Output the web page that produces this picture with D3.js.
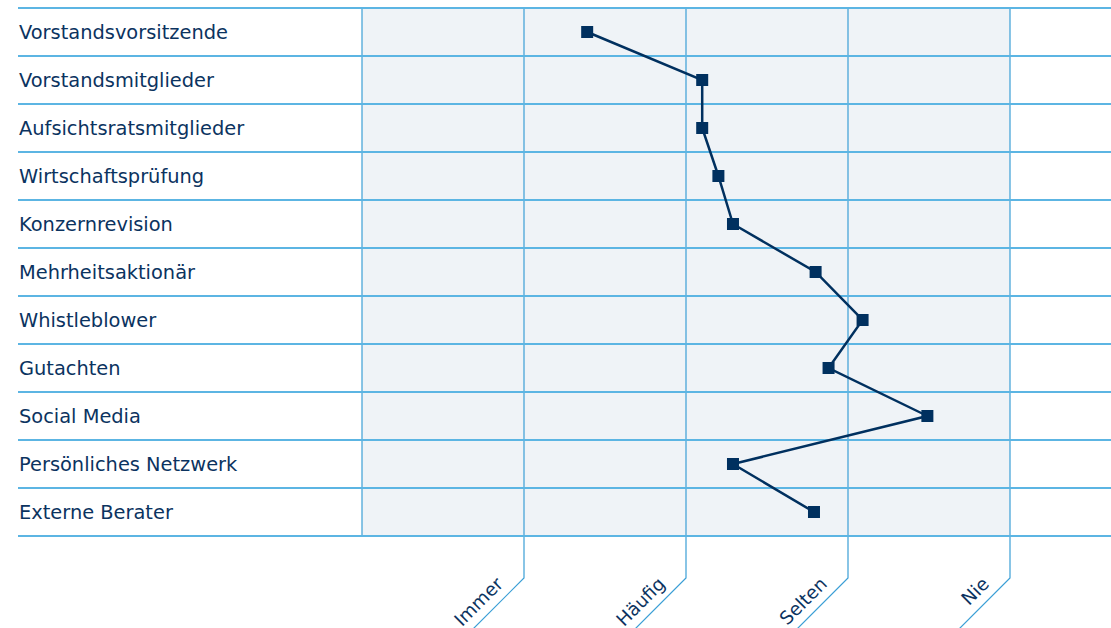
<!DOCTYPE html>
<html><head><meta charset="utf-8">
<script src="https://cdn.jsdelivr.net/npm/d3@7"></script>
<style>
html,body{margin:0;padding:0;background:#fff;}
svg{display:block;}
text{font-family:"DejaVu Sans",sans-serif;}
</style></head>
<body>
<svg id="chart" width="1111" height="628"></svg>
<script>
const categories = ["Vorstandsvorsitzende","Vorstandsmitglieder","Aufsichtsratsmitglieder","Wirtschaftsprüfung","Konzernrevision","Mehrheitsaktionär","Whistleblower","Gutachten","Social Media","Persönliches Netzwerk","Externe Berater"];
const values = [1.39, 2.10, 2.10, 2.20, 2.29, 2.80, 3.09, 2.88, 3.49, 2.29, 2.79];
const tickValues = [1, 2, 3, 4];
const tickLabels = ["Immer","Häufig","Selten","Nie"];

(function(){
const W = 1111, H = 628;
const plotTop = 8, plotBottom = 536, plotL = 362, plotR = 1010, labelL = 18;
const svg = d3.select("#chart");

const x = d3.scaleLinear().domain([0, 4]).range([plotL, plotR]);
const y = d3.scaleBand().domain(categories).range([plotTop, plotBottom]).padding(0);

const hColor = "#5cb5e3", vColor = "#3b9fd6", textColor = "#0b3360", markColor = "#00305f";
const fs = 19.4;

svg.append("rect").attr("x", plotL).attr("y", plotTop).attr("width", plotR - plotL).attr("height", plotBottom - plotTop).attr("fill", "#eff3f7");

svg.append("line").attr("x1", plotL).attr("x2", plotL).attr("y1", plotTop).attr("y2", plotBottom)
  .attr("stroke", vColor).attr("stroke-width", 1.2);
const tickG = svg.selectAll("g.tick").data(tickValues).enter().append("g").attr("class","tick");
const ext = 578;
tickG.append("path")
  .attr("d", d => `M${x(d)},${plotTop}V${ext}l-70,70`)
  .attr("fill", "none").attr("stroke", vColor).attr("stroke-width", 1.2);
tickG.append("text")
  .attr("transform", d => `translate(${x(d)},${ext}) rotate(-45)`)
  .attr("x", -19).attr("y", -9)
  .attr("text-anchor", "end")
  .attr("font-size", 18.3).attr("fill", textColor)
  .text((d, i) => tickLabels[i]);

const bounds = categories.map(c => y(c)).concat([y(categories[categories.length-1]) + y.bandwidth()]);
svg.selectAll("line.h").data(bounds).enter().append("line").attr("class","h")
  .attr("x1", labelL).attr("x2", W).attr("y1", d => d).attr("y2", d => d)
  .attr("stroke", hColor).attr("stroke-width", 2);

svg.selectAll("text.cat").data(categories).enter().append("text").attr("class","cat")
  .attr("x", 19).attr("y", d => y(d) + y.bandwidth()/2)
  .attr("dy", "0.36em")
  .attr("font-size", fs).attr("fill", textColor)
  .text(d => d);

const pts = categories.map((c, i) => [x(values[i]), y(c) + y.bandwidth()/2]);
svg.append("path").attr("d", d3.line()(pts))
  .attr("fill", "none").attr("stroke", markColor).attr("stroke-width", 2.5);
svg.selectAll("rect.m").data(pts).enter().append("rect").attr("class","m")
  .attr("x", d => d[0] - 6).attr("y", d => d[1] - 6).attr("width", 12).attr("height", 12)
  .attr("fill", markColor);
})();
</script>
</body></html>
